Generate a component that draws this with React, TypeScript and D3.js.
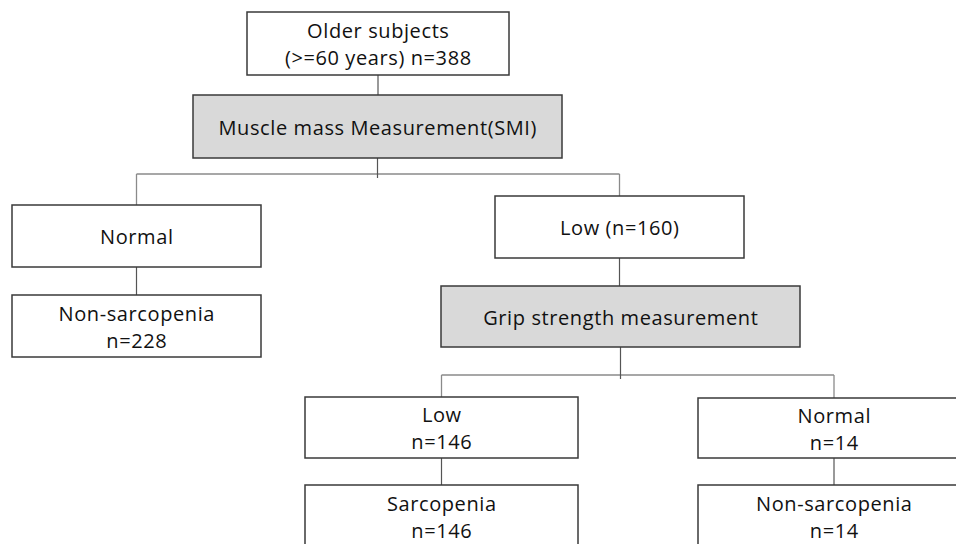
import { useEffect, useRef } from "react";
import * as d3 from "d3";

// node ids and their text lines
const nodeIds = ["top", "smi", "normal", "nonSarc1", "low160", "grip", "low146", "sarc", "normal14", "nonSarc2"];
const nodeLabels: string[][] = [
  ["Older subjects", "(>=60 years) n=388"],
  ["Muscle mass Measurement(SMI)"],
  ["Normal"],
  ["Non-sarcopenia", "n=228"],
  ["Low (n=160)"],
  ["Grip strength measurement"],
  ["Low", "n=146"],
  ["Sarcopenia", "n=146"],
  ["Normal", "n=14"],
  ["Non-sarcopenia", "n=14"],
];
const measureNodes = ["smi", "grip"];

// parent -> children links
const straightLinks: [string, string][] = [
  ["top", "smi"],
  ["normal", "nonSarc1"],
  ["low160", "grip"],
  ["low146", "sarc"],
  ["normal14", "nonSarc2"],
];
const splitLinks: [string, string[]][] = [
  ["smi", ["normal", "low160"]],
  ["grip", ["low146", "normal14"]],
];

// layout (x0, y0, x1, y1) in page pixels
const layout: Record<string, [number, number, number, number]> = {
  top: [247, 12, 509, 75],
  smi: [193, 95, 562, 158],
  normal: [12, 205, 261, 267],
  nonSarc1: [12, 295, 261, 357],
  low160: [495, 196, 744, 258],
  grip: [441, 286, 800, 347],
  low146: [305, 397, 578, 458],
  sarc: [305, 485, 578, 575],
  normal14: [698, 398, 970, 458],
  nonSarc2: [698, 485, 970, 575],
};
const splitY: Record<string, number> = { smi: 174, grip: 375 };

const width = 956;
const height = 544;

export default function App() {
  const ref = useRef<SVGSVGElement>(null);

  useEffect(() => {
    if (!ref.current) return;
    const svg = d3.select(ref.current);
    svg.selectAll("*").remove();

    const box = (id: string) => {
      const [x0, y0, x1, y1] = layout[id];
      return { x0, y0, x1, y1, cx: (x0 + x1) / 2 };
    };

    const links = svg.append("g");

    // horizontal split lines
    splitLinks.forEach(([p, kids]) => {
      const pb = box(p);
      const y = splitY[p];
      const xs = kids.map((k) => box(k).cx);
      links
        .append("line")
        .attr("x1", d3.min(xs)!)
        .attr("x2", d3.max(xs)!)
        .attr("y1", y)
        .attr("y2", y)
        .attr("stroke", "#8a8a8a")
        .attr("stroke-width", 1.3);
      links
        .append("line")
        .attr("x1", pb.cx)
        .attr("x2", pb.cx)
        .attr("y1", pb.y1)
        .attr("y2", y + 4)
        .attr("stroke", "#555")
        .attr("stroke-width", 1.2);
      kids.forEach((k) => {
        const kb = box(k);
        links
          .append("line")
          .attr("x1", kb.cx)
          .attr("x2", kb.cx)
          .attr("y1", y)
          .attr("y2", kb.y0)
          .attr("stroke", "#8a8a8a")
          .attr("stroke-width", 1.3);
      });
    });

    straightLinks.forEach(([p, c]) => {
      const pb = box(p);
      const cb = box(c);
      links
        .append("line")
        .attr("x1", pb.cx)
        .attr("x2", pb.cx)
        .attr("y1", pb.y1)
        .attr("y2", cb.y0)
        .attr("stroke", "#555")
        .attr("stroke-width", 1.2);
    });

    const nodes = svg
      .append("g")
      .selectAll("g")
      .data(nodeIds.map((id, i) => ({ id, lines: nodeLabels[i] })))
      .join("g");

    nodes
      .append("rect")
      .attr("x", (d) => box(d.id).x0)
      .attr("y", (d) => box(d.id).y0)
      .attr("width", (d) => box(d.id).x1 - box(d.id).x0)
      .attr("height", (d) => box(d.id).y1 - box(d.id).y0)
      .attr("fill", (d) => (measureNodes.includes(d.id) ? "#d9d9d9" : "#fff"))
      .attr("stroke", "#3a3a3a")
      .attr("stroke-width", 1.5);

    const lineGap = 27;
    nodes.each(function (d) {
      const b = box(d.id);
      const tall = b.y1 > height;
      const cy = tall ? b.y0 + 31.5 : (b.y0 + b.y1) / 2;
      const g = d3.select(this);
      d.lines.forEach((t, i) => {
        g.append("text")
          .attr("x", b.cx + 0.3)
          .attr("y", cy + (i - (d.lines.length - 1) / 2) * lineGap + 0.5)
          .attr("text-anchor", "middle")
          .attr("dominant-baseline", "central")
          .attr("font-family", "'Open Sans', 'Noto Sans', sans-serif")
          .attr("font-size", 20)
          .attr("letter-spacing", 0.6)
          .attr("fill", "#111")
          .text(t);
      });
    });
  }, []);

  return (
    <svg
      ref={ref}
      width={width}
      height={height}
      style={{ position: "absolute", left: 0, top: 0, background: "#fff", display: "block" }}
    />
  );
}
